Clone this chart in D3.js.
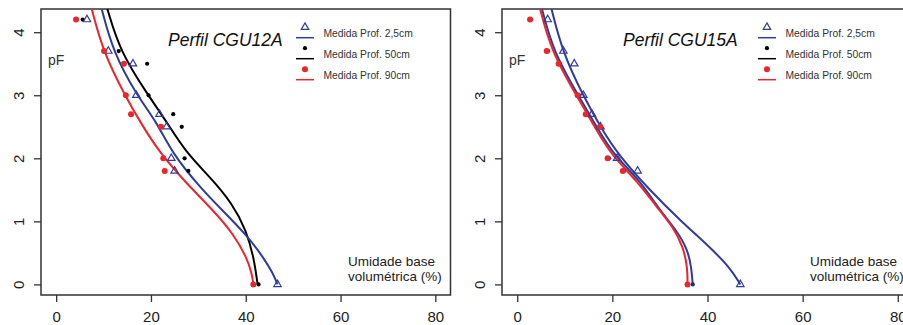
<!DOCTYPE html>
<html>
<head>
<meta charset="utf-8">
<script src="https://cdn.jsdelivr.net/npm/d3@7"></script>
<style>
  body { margin: 0; background: #fff; }
  svg { display: block; font-family: "Liberation Sans", Arial, sans-serif; }
</style>
</head>
<body>
<div id="container"></div>
<script>
/* DATA */
const pFLevels = [4.2, 3.7, 3.5, 3.0, 2.7, 2.5, 2.0, 1.8, 0];
const xTicks = [0, 20, 40, 60, 80];
const yTicks = [0, 1, 2, 3, 4];
const seriesNames = ["Medida Prof. 2,5cm", "Medida Prof. 50cm", "Medida Prof. 90cm"];

// CGU12A measured points (umidade %) at each pF level
const cgu12P25 = [6.5, 11.0, 16.2, 16.9, 21.8, 23.3, 24.3, 25.0, 46.7];
const cgu12P50 = [5.6, 13.2, 19.2, 19.5, 24.7, 26.5, 27.1, 27.9, 42.7];
const cgu12P90 = [4.2, 10.1, 14.3, 14.7, 15.8, 22.1, 22.6, 22.9, 41.6];

// CGU12A fitted curves (pF, umidade)
const cgu12CurveP25pF = [4.37, 3.69, 3.0, 2.58, 2.10, 1.54, 1.12, 0.78, 0.43, 0.17, 0];
const cgu12CurveP25 = [9.6, 12.0, 17.0, 21.2, 24.3, 30.3, 35.8, 40.2, 43.7, 45.8, 46.7];
const cgu12CurveP50pF = [4.37, 3.69, 3.0, 2.58, 2.10, 1.70, 1.28, 0.86, 0.43, 0];
const cgu12CurveP50 = [10.8, 13.5, 19.4, 23.3, 27.3, 32.5, 37.2, 40.1, 41.7, 42.5];
const cgu12CurveP90pF = [4.37, 3.69, 3.0, 2.58, 2.10, 1.60, 1.17, 0.80, 0.43, 0.17, 0];
const cgu12CurveP90 = [7.5, 9.9, 14.5, 17.7, 21.7, 27.5, 33.2, 37.4, 40.2, 41.3, 41.6];

// CGU15A measured points
const cgu15P25 = [6.4, 9.7, 12.0, 13.9, 15.7, 17.5, 21.0, 25.3, 46.9];
const cgu15P50 = [2.9, 6.5, 9.0, 13.0, 14.8, 17.6, 19.3, 22.4, 36.9];
const cgu15P90 = [2.7, 6.2, 8.7, 12.7, 14.4, 17.4, 19.0, 22.2, 35.8];

// CGU15A fitted curves
const cgu15CurveP25pF = [4.37, 3.69, 3.0, 2.47, 2.05, 1.49, 1.02, 0.59, 0.27, 0];
const cgu15CurveP25 = [7.2, 9.5, 13.8, 17.7, 21.3, 27.9, 34.2, 40.5, 44.7, 46.9];
const cgu15CurveP50pF = [4.37, 3.69, 3.0, 2.47, 2.05, 1.65, 1.17, 0.86, 0.54, 0.27, 0];
const cgu15CurveP50 = [5.2, 7.6, 12.8, 16.9, 20.3, 25.8, 30.0, 33.5, 35.9, 36.6, 36.9];
const cgu15CurveP90pF = [4.37, 3.69, 3.0, 2.47, 2.05, 1.65, 1.23, 0.91, 0.59, 0.27, 0];
const cgu15CurveP90 = [4.8, 7.2, 12.4, 16.5, 19.8, 25.1, 29.3, 32.8, 34.9, 35.8, 35.8];

/* CONSTANTS */
const width = 903, height = 325;
const blue = "#2e3c9c", red = "#e8262b", black = "#000";

const svg = d3.select("#container").append("svg")
  .attr("width", width).attr("height", height);

const y = d3.scaleLinear().domain([-0.168, 4.368]).range([295, 9]);

const panels = [
  {
    id: "p1", title: "Perfil CGU12A", xRange: [41, 450.5], titleX: 168, umidX: 348, boxRight: true,
    points: [cgu12P25, cgu12P50, cgu12P90],
    curves: [[cgu12CurveP25pF, cgu12CurveP25], [cgu12CurveP50pF, cgu12CurveP50], [cgu12CurveP90pF, cgu12CurveP90]],
    colors: [blue, black, red], pointColors: [blue, black, red]
  },
  {
    id: "p2", title: "Perfil CGU15A", xRange: [502, 913], titleX: 623, umidX: 810, boxRight: false,
    points: [cgu15P25, cgu15P50, cgu15P90],
    curves: [[cgu15CurveP25pF, cgu15CurveP25], [cgu15CurveP50pF, cgu15CurveP50], [cgu15CurveP90pF, cgu15CurveP90]],
    colors: [blue, blue, red], pointColors: [blue, "#1f2a78", red]
  }
];

function drawSymbol(g, kind, cx, cy, color) {
  if (kind === 0) {
    g.append("path")
      .attr("d", d3.symbol(d3.symbolTriangle, 24)())
      .attr("transform", `translate(${cx},${cy})`)
      .attr("fill", "none").attr("stroke", color).attr("stroke-width", 1.2);
  } else if (kind === 1) {
    g.append("circle").attr("cx", cx).attr("cy", cy).attr("r", 2.1).attr("fill", color);
  } else {
    g.append("circle").attr("cx", cx).attr("cy", cy).attr("r", 3).attr("fill", color);
  }
}

panels.forEach(p => {
  const x = d3.scaleLinear().domain([-3.2, 83.2]).range(p.xRange);
  const g = svg.append("g");

  g.append("clipPath").attr("id", "clip-" + p.id)
    .append("rect")
    .attr("x", p.xRange[0]).attr("y", y.range()[1])
    .attr("width", p.xRange[1] - p.xRange[0]).attr("height", y.range()[0] - y.range()[1]);

  // axes
  const xAxis = g.append("g")
    .attr("transform", `translate(0,${y.range()[0]})`)
    .call(d3.axisBottom(x).tickValues(xTicks).tickSize(7).tickPadding(9));
  xAxis.select(".domain").remove();
  xAxis.selectAll("line").attr("stroke", "#333").attr("stroke-width", 1.3);
  xAxis.selectAll("text").attr("font-size", 15).attr("fill", "#222")
    .attr("font-family", "Liberation Sans, Arial, sans-serif");

  const yAxis = g.append("g")
    .attr("transform", `translate(${p.xRange[0]},0)`)
    .call(d3.axisLeft(y).tickValues(yTicks).tickFormat(d3.format("d")).tickSize(7));
  yAxis.select(".domain").remove();
  yAxis.selectAll("line").attr("stroke", "#333").attr("stroke-width", 1.3);
  yAxis.selectAll("text")
    .attr("x", null).attr("dy", null)
    .attr("text-anchor", "middle")
    .attr("transform", "translate(-17,0) rotate(-90)")
    .attr("font-size", 15).attr("fill", "#222")
    .attr("font-family", "Liberation Sans, Arial, sans-serif");

  // box (left, top, bottom and right when visible)
  const [x0, x1] = p.xRange, [yb, yt] = y.range();
  const box = p.boxRight
    ? `M${x0},${yt}H${x1}V${yb}H${x0}Z`
    : `M${width + 5},${yt}H${x0}V${yb}H${width + 5}`;
  g.append("path").attr("d", box).attr("fill", "none")
    .attr("stroke", "#333").attr("stroke-width", 1.5);

  // curves
  const line = d3.line()
    .x(d => x(d[1])).y(d => y(d[0]))
    .curve(d3.curveBasis);
  const plot = g.append("g").attr("clip-path", `url(#clip-${p.id})`);
  [1, 0, 2].forEach(i => {
    const [pfs, vals] = p.curves[i];
    plot.append("path")
      .datum(pfs.map((v, k) => [v, vals[k]]))
      .attr("d", line)
      .attr("fill", "none").attr("stroke", p.colors[i]).attr("stroke-width", 2);
  });

  // measured points
  [1, 0, 2].forEach(i => {
    p.points[i].forEach((v, k) => drawSymbol(plot, i, x(v), y(pFLevels[k]), p.pointColors[i]));
  });

  // title
  g.append("text").attr("x", p.titleX).attr("y", 46)
    .attr("font-size", 17.5).attr("font-style", "italic").attr("fill", "#111")
    .text(p.title);

  // legend
  const legColors = [blue, black, red];
  seriesNames.forEach((name, i) => {
    const ly = 37.7 + i * 21;
    g.append("line").attr("x1", x(50.6)).attr("x2", x(54.4))
      .attr("y1", ly).attr("y2", ly).attr("stroke", legColors[i]).attr("stroke-width", 1.5);
    drawSymbol(g, i, x(52.5), ly - 10.5, legColors[i]);
    g.append("text").attr("x", x(56.4)).attr("y", ly - 0.3)
      .attr("font-size", 10.3).attr("fill", "#333").text(name);
  });

  // axis labels
  g.append("text").attr("x", p.xRange[0] + 7).attr("y", 65)
    .attr("font-size", 14).attr("fill", "#333").text("pF");
  g.append("text").attr("x", p.umidX).attr("y", 266)
    .attr("font-size", 13.5).attr("fill", "#222").text("Umidade base");
  g.append("text").attr("x", p.umidX).attr("y", 280.5)
    .attr("font-size", 13.5).attr("fill", "#222").text("volumétrica (%)");
});
</script>
</body>
</html>
